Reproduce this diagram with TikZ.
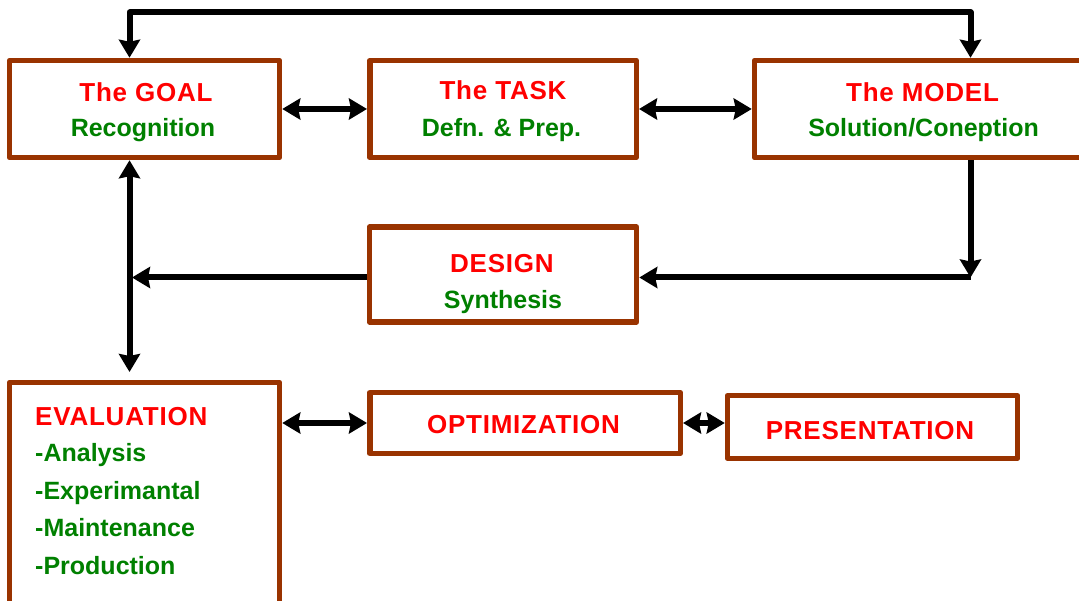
\documentclass[tikz,border=0pt]{standalone}
\usepackage{fontspec}
\setmainfont{Liberation Sans}
\newfontfamily\redfont[LetterSpace=3]{Liberation Sans}
\usetikzlibrary{arrows.meta}
\definecolor{boxbrown}{HTML}{993300}
\definecolor{txtred}{HTML}{FF0000}
\definecolor{txtgreen}{HTML}{008000}
\begin{document}
\begin{tikzpicture}[x=1pt,y=-1pt,
  box/.style={draw=boxbrown, line width=5.5pt, line join=round, inner sep=0pt, fill=white},
  redtxt/.style={text=txtred, font=\redfont\bfseries\fontsize{26}{30}\selectfont, anchor=base, inner sep=0pt},
  greentxt/.style={text=txtgreen, font=\bfseries\fontsize{25}{30}\selectfont, anchor=base, inner sep=0pt},
  headtip/.tip={Stealth[length=18pt,width=21pt,inset=2pt]},
  conn/.style={line width=6pt, draw=black, line join=round, headtip-headtip},
  conn1/.style={line width=6pt, draw=black, line join=round, -headtip}
]
\useasboundingbox (0,0) rectangle (1079,601);

% boxes
\node[box, minimum width=270pt, minimum height=97pt] (goal) at (144.5,109) {};
\node[box, minimum width=266.5pt, minimum height=97pt] (task) at (503,109) {};
\node[box, minimum width=337pt, minimum height=97pt] (model) at (923,109) {};
\node[box, minimum width=267pt, minimum height=95pt] (design) at (503,274.5) {};
\node[box, minimum width=270pt, minimum height=240pt, anchor=north west] (eval) at (6.75,379.75) {};
\node[box, minimum width=310.5pt, minimum height=60.5pt] (opt) at (525,423) {};
\node[box, minimum width=290pt, minimum height=62.5pt] (pres) at (872.5,427) {};

% texts
\node[redtxt] (goalA) at (146,102) {The GOAL};
\node[greentxt] (goalB) at (143,137) {Recognition};
\node[redtxt] (taskA) at (503,100) {The TASK};
\node[greentxt] (taskB) at (501.5,137) {Defn. \& Prep.};
\node[redtxt] (modelA) at (922.5,102) {The MODEL};
\node[greentxt] (modelB) at (923.5,137) {Solution/Coneption};
\node[redtxt] (desA) at (502,273) {DESIGN};
\node[greentxt] (desB) at (503,309) {Synthesis};
\node[redtxt, anchor=base west] (evA) at (35,425) {EVALUATION};
\node[greentxt, anchor=base west] (evB) at (35,461.5) {-Analysis};
\node[greentxt, anchor=base west] (evC) at (35,499) {-Experimantal};
\node[greentxt, anchor=base west] (evD) at (35,536.5) {-Maintenance};
\node[greentxt, anchor=base west] (evE) at (35,574) {-Production};
\node[redtxt] (optA) at (523.5,434) {OPTIMIZATION};
\node[redtxt] (presA) at (870,439) {PRESENTATION};

% connectors
\coordinate (tl) at (129.5,12.5);
\coordinate (tr) at (970.5,12.5);
\coordinate (mc) at (970.5,277.5);
\coordinate (dl) at (132,277.5);
\coordinate (ev) at (129.5,372);

\draw[conn] (goal.north -| tl) -- (tl) -- (tr) -- (model.north -| tr);
\draw[conn] (goal.east) -- (task.west);
\draw[conn] (task.east) -- (model.west);
\draw[conn1] (model.south -| mc) -- (mc);
\draw[conn1] (mc) -- (design.east |- mc);
\draw[conn1] (design.west |- dl) -- (dl);
\draw[conn] (goal.south -| ev) -- (ev);
\draw[conn] (opt.west -| eval.east) -- (opt.west);
\draw[conn] (opt.east) -- (opt.east -| pres.west);
\end{tikzpicture}
\end{document}
